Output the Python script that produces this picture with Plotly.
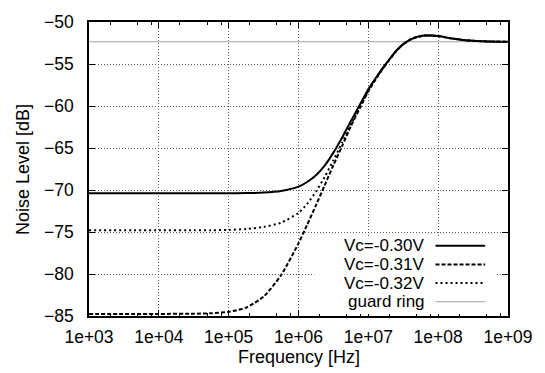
import plotly.graph_objects as go

# ---------------- data ----------------
freq_hz = [1e3, 1e4, 3.16e4, 5.62e4, 1e5, 1.78e5, 3.16e5, 5.62e5, 1e6, 1.33e6, 1.78e6,
           2.37e6, 3.16e6, 4.22e6, 5.62e6, 7.5e6, 1e7, 1.26e7, 1.58e7, 2e7, 2.51e7,
           3.16e7, 3.98e7, 5.01e7, 6.31e7, 7.94e7, 1e8, 1.26e8, 1.58e8, 2.24e8,
           3.16e8, 5.01e8, 1e9]

vc_030 = [-70.4, -70.4, -70.4, -70.4, -70.39, -70.37, -70.31, -70.12, -69.6, -69.05, -68.25,
          -67.1, -65.55, -63.75, -61.8, -59.9, -58.0, -56.75, -55.55, -54.45, -53.42,
          -52.63, -52.09, -51.77, -51.62, -51.6, -51.68, -51.82, -51.96, -52.13,
          -52.24, -52.31, -52.35]

vc_031 = [-84.75, -84.75, -84.73, -84.67, -84.5, -84.0, -82.7, -80.15, -76.35, -74.15, -71.8,
          -69.45, -67.05, -64.75, -62.4, -60.3, -58.25, -56.9, -55.65, -54.5, -53.45,
          -52.65, -52.1, -51.78, -51.62, -51.6, -51.68, -51.82, -51.96, -52.13,
          -52.24, -52.31, -52.35]

vc_032 = [-74.8, -74.8, -74.8, -74.79, -74.75, -74.65, -74.4, -73.9, -72.72, -71.65, -70.2,
          -68.45, -66.45, -64.35, -62.17, -60.15, -58.15, -56.85, -55.62, -54.48, -53.44,
          -52.65, -52.1, -51.78, -51.62, -51.6, -51.68, -51.82, -51.96, -52.13,
          -52.24, -52.31, -52.35]

guard_freq = [1e3, 1e9]
guard_ring = [-52.35, -52.35]

series_names = ["Vc=-0.30V", "Vc=-0.31V", "Vc=-0.32V", "guard ring"]

x_tick_vals = [1e3, 1e4, 1e5, 1e6, 1e7, 1e8, 1e9]
x_tick_text = ["1e+03", "1e+04", "1e+05", "1e+06", "1e+07", "1e+08", "1e+09"]
x_minor_vals = [m * 10 ** e for e in range(3, 9) for m in (2, 4.9, 7.8)]
y_tick_vals = [-85, -80, -75, -70, -65, -60, -55, -50]

# ---------------- styles ----------------
FONT = "Liberation Sans, Arial, Helvetica, sans-serif"
styles = [
    dict(color="black", width=2, dash="solid"),
    dict(color="black", width=2, dash="4px,2px"),
    dict(color="black", width=2, dash="2px,3px"),
    dict(color="#a0a0a0", width=1.2, dash="solid"),
]

W, H = 545, 373
L, R, T, B = 89, 34, 17, 57
pw, ph = W - L - R, H - T - B

fig = go.Figure()
fig.add_trace(go.Scatter(x=guard_freq, y=guard_ring, mode="lines", line=styles[3],
                         name=series_names[3], showlegend=False))
for ys, st, nm in zip([vc_032, vc_031, vc_030], [styles[2], styles[1], styles[0]],
                      [series_names[2], series_names[1], series_names[0]]):
    fig.add_trace(go.Scatter(x=freq_hz, y=ys, mode="lines", line=dict(**st, shape="spline", smoothing=0.6),
                             name=nm, showlegend=False))

def px_x(p):
    return (p - L) / pw

def px_y(p):
    return (T + ph - p) / ph

shapes = []
annotations = []
# opaque key box (covers grid as in the reference)
shapes.append(dict(type="rect", xref="paper", yref="paper", x0=px_x(316), x1=px_x(500),
                   y0=px_y(314), y1=px_y(237), fillcolor="white", line=dict(width=0),
                   layer="above"))
row_y = [244.5, 263.5, 282.5, 301.5]
for i, nm in enumerate(series_names):
    st = styles[i]
    shapes.append(dict(type="line", xref="paper", yref="paper", x0=px_x(438), x1=px_x(488),
                       y0=px_y(row_y[i]), y1=px_y(row_y[i]),
                       line=dict(color=st["color"], width=st["width"], dash=st["dash"]),
                       layer="above"))
    annotations.append(dict(text=nm, xref="paper", yref="paper", x=px_x(428), y=px_y(row_y[i]),
                            xanchor="right", yanchor="middle", showarrow=False,
                            borderpad=0,
                            font=dict(family=FONT, size=17, color="black")))

annotations.append(dict(text="Frequency [Hz]", xref="paper", yref="paper", x=px_x(300),
                        y=px_y(358), xanchor="center", yanchor="middle", showarrow=False,
                        font=dict(family=FONT, size=18, color="black")))
annotations.append(dict(text="Noise Level [dB]", xref="paper", yref="paper", x=px_x(23),
                        y=px_y(167), xanchor="center", yanchor="middle", showarrow=False,
                        textangle=-90, font=dict(family=FONT, size=18, color="black")))

fig.update_layout(
    width=W, height=H,
    margin=dict(l=L, r=R, t=T, b=B, pad=0),
    paper_bgcolor="white", plot_bgcolor="white",
    font=dict(family=FONT, size=17.5, color="black"),
    shapes=shapes, annotations=annotations,
    showlegend=False,
)
GRID = dict(showgrid=True, gridcolor="#606060", gridwidth=1, griddash="1px,2px")
fig.update_xaxes(
    type="log", range=[3, 9],
    tickmode="array", tickvals=x_tick_vals, ticktext=x_tick_text,
    ticks="inside", ticklen=6, tickwidth=1, tickcolor="black",
    showline=True, linecolor="black", linewidth=1.5, mirror="ticks",
    zeroline=False, ticklabelstandoff=4,
    minor=dict(tickmode="array", tickvals=x_minor_vals, ticks="inside", ticklen=3,
               tickwidth=1, tickcolor="black", showgrid=False),
    **GRID,
)
fig.update_yaxes(
    range=[-85, -50], tickmode="array", tickvals=y_tick_vals,
    ticks="inside", ticklen=6, tickwidth=1, tickcolor="black",
    showline=True, linecolor="black", linewidth=1.5, mirror="ticks",
    zeroline=False, ticklabelstandoff=10,
    **GRID,
)

fig.write_html("out.html")
